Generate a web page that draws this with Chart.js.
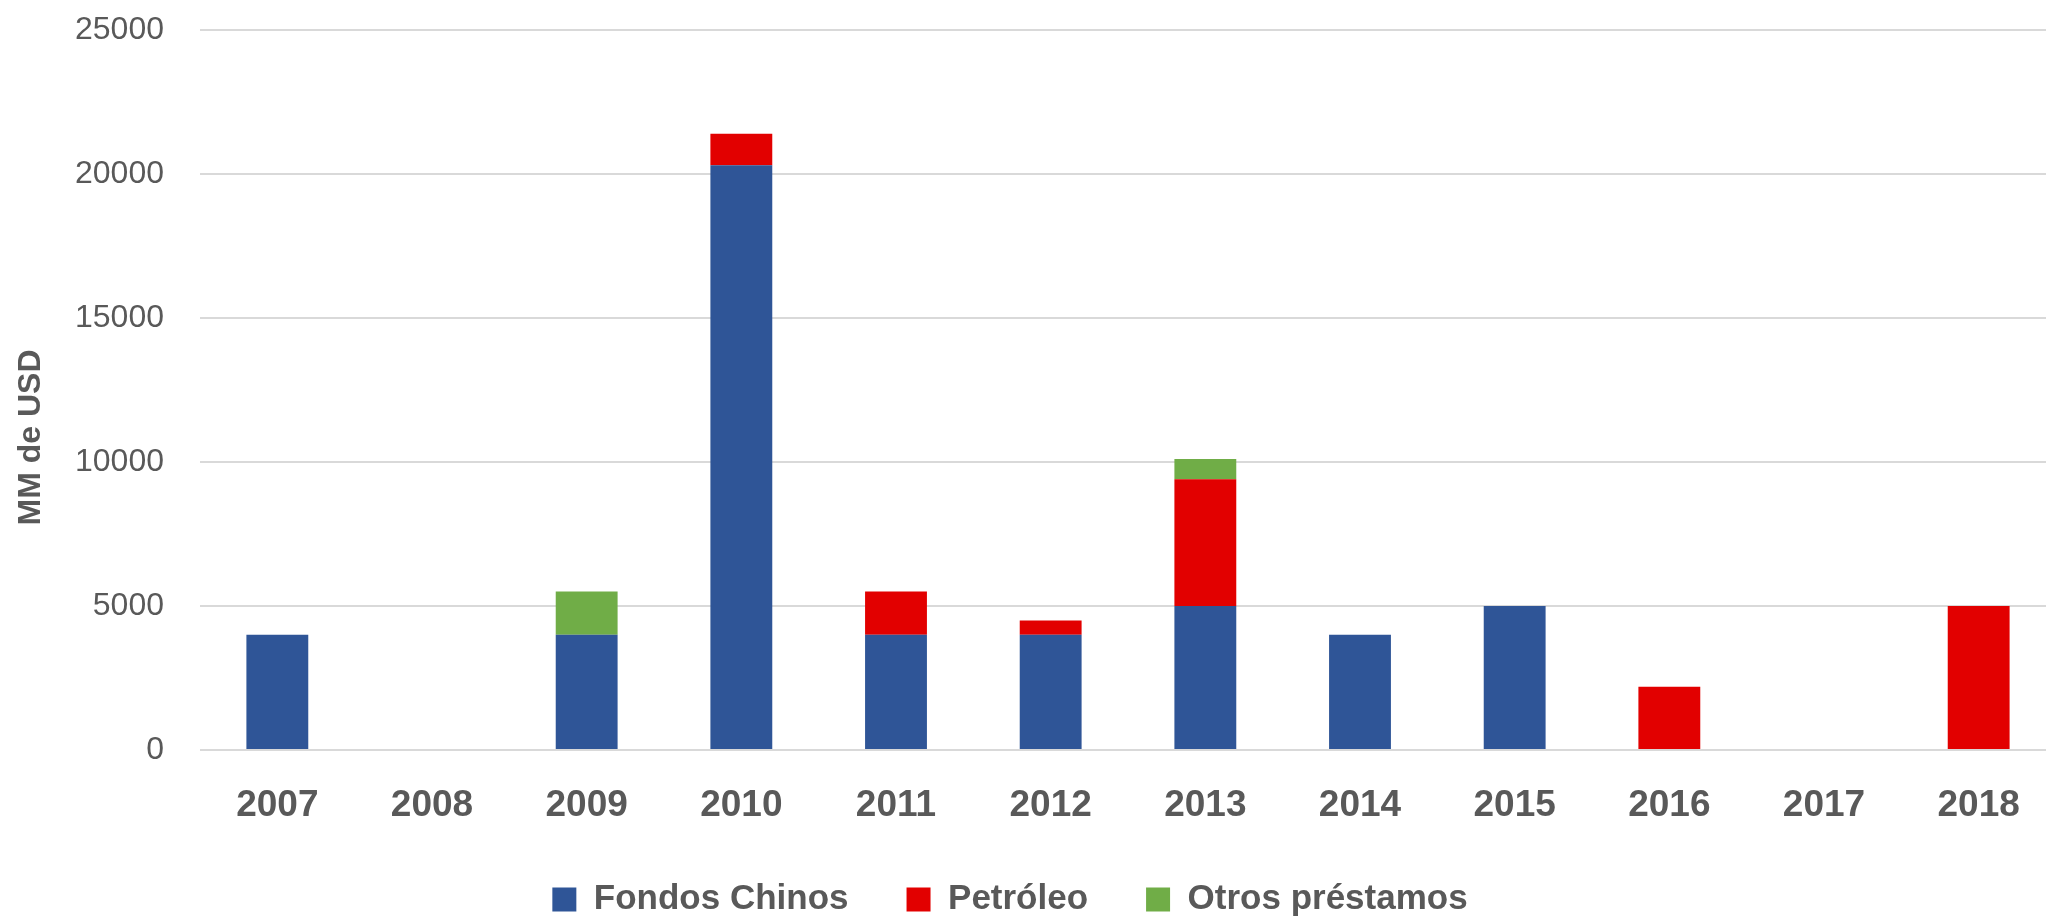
<!DOCTYPE html>
<html>
<head>
<meta charset="utf-8">
<script src="https://cdn.jsdelivr.net/npm/chart.js@4"></script>
<style>
  html, body { margin: 0; padding: 0; background: #fff; overflow: hidden; }
  #wrap { width: 2056px; height: 921px; }
</style>
</head>
<body>
<div id="wrap"><canvas id="chart" width="2056" height="921"></canvas></div>
<script>
const years = ['2007', '2008', '2009', '2010', '2011', '2012', '2013', '2014', '2015', '2016', '2017', '2018'];
const fondosChinos = [4000, 0, 4000, 20300, 4000, 4000, 5000, 4000, 5000, 0, 0, 0];
const petroleo = [0, 0, 0, 1100, 1500, 500, 4400, 0, 0, 2200, 0, 5000];
const otrosPrestamos = [0, 0, 1500, 0, 0, 0, 700, 0, 0, 0, 0, 0];
const yTicks = [0, 5000, 10000, 15000, 20000, 25000];
const yTitle = 'MM de USD';

const textColor = '#595959';

// nudge the legend a little left, like in the original
const shiftLegend = {
    id: 'shiftLegend',
    afterLayout(chart) {
        if (chart.legend) {
            chart.legend.left -= 18;
            chart.legend.right -= 18;
        }
    }
};

// y title sits a bit lower than the axis middle in the original
const yTitlePlugin = {
    id: 'yTitlePlugin',
    afterDraw(chart) {
        const ctx = chart.ctx;
        const area = chart.chartArea;
        ctx.save();
        ctx.translate(31, (area.top + chart.height) / 2 - 38);
        ctx.rotate(-Math.PI / 2);
        ctx.font = 'bold 32px "Liberation Sans"';
        ctx.fillStyle = textColor;
        ctx.textAlign = 'center';
        ctx.textBaseline = 'middle';
        ctx.fillText(yTitle, 0, 0);
        ctx.restore();
    }
};

function generateBarChart(ctx) {
    const data = {
        labels: years,
        datasets: [
            { label: 'Fondos Chinos', data: fondosChinos, backgroundColor: '#2F5597' },
            { label: 'Petróleo', data: petroleo, backgroundColor: '#E20000' },
            { label: 'Otros préstamos', data: otrosPrestamos, backgroundColor: '#70AD47' }
        ]
    };

    const config = {
        type: 'bar',
        data: data,
        plugins: [shiftLegend, yTitlePlugin],
        options: {
            responsive: false,
            animation: false,
            datasets: {
                bar: {
                    categoryPercentage: 0.4,
                    barPercentage: 1.0
                }
            },
            layout: {
                padding: { top: 30, right: 0, left: 0, bottom: -6 }
            },
            plugins: {
                legend: {
                    position: 'bottom',
                    labels: {
                        color: textColor,
                        boxWidth: 24,
                        boxHeight: 24,
                        padding: 58,
                        font: { family: 'Liberation Sans', size: 35, weight: 'bold' },
                        generateLabels: function (chart) {
                            const items = Chart.defaults.plugins.legend.labels.generateLabels(chart);
                            items.forEach(function (it) { it.lineWidth = 0; });
                            return items;
                        }
                    }
                },
                tooltip: { enabled: false }
            },
            scales: {
                x: {
                    stacked: true,
                    grid: { display: false, drawTicks: false },
                    border: { display: false },
                    ticks: {
                        color: textColor,
                        padding: 34,
                        font: { family: 'Liberation Sans', size: 37, weight: 'bold' }
                    },
                    afterFit: function (scale) { scale.height = 74; }
                },
                y: {
                    stacked: true,
                    min: 0,
                    max: 25000,
                    afterBuildTicks: function (scale) {
                        scale.ticks = yTicks.map(function (v) { return { value: v }; });
                    },
                    grid: { color: '#D9D9D9', lineWidth: 2, drawTicks: false },
                    border: { display: false },
                    ticks: {
                        color: textColor,
                        padding: 36,
                        font: { family: 'Liberation Sans', size: 32 },
                        callback: function (value) { return String(value); }
                    },
                    afterFit: function (scale) {
                        scale.width = 200;
                        scale.paddingTop = 0;
                        scale.paddingBottom = 0;
                    }
                }
            }
        }
    };

    return new Chart(ctx, config);
}

generateBarChart(document.getElementById('chart'));
</script>
</body>
</html>
